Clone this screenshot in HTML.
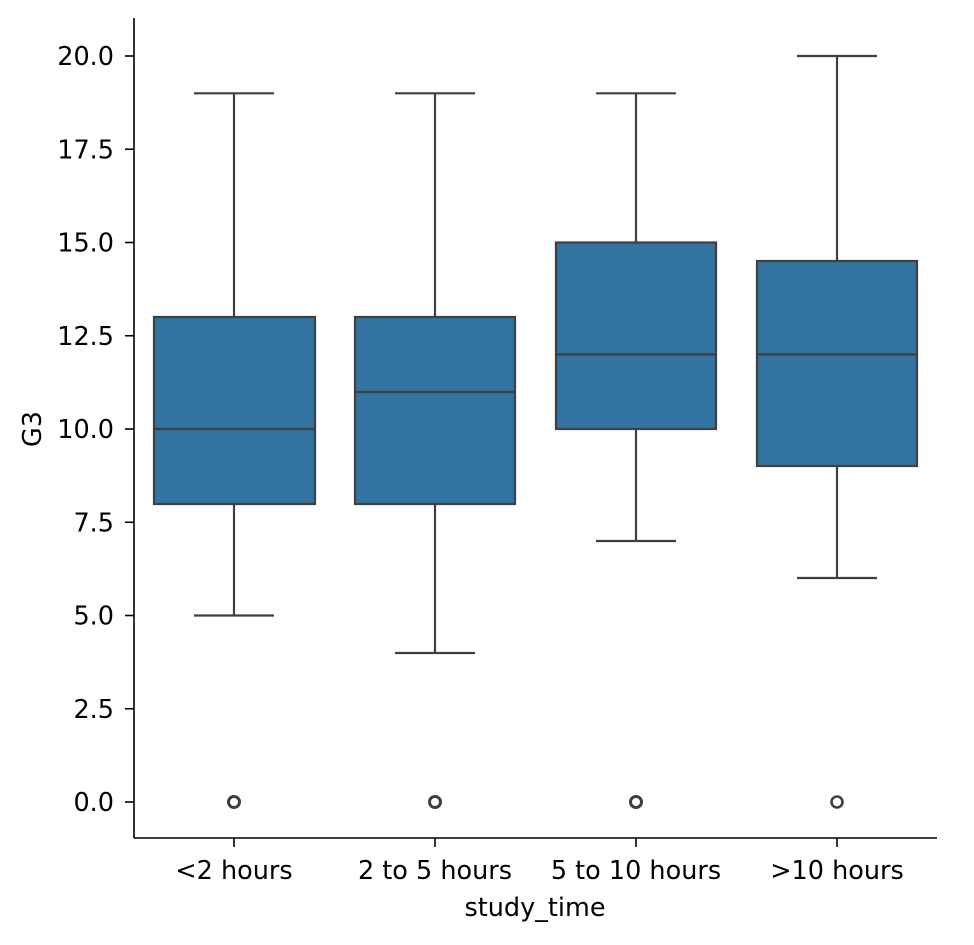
<!DOCTYPE html>
<html><head><meta charset="utf-8"><style>body{margin:0;background:#fff}</style></head>
<body>
<svg width="974" height="940" xmlns="http://www.w3.org/2000/svg" font-family="DejaVu Sans, Liberation Sans, sans-serif" font-size="25.5">
<rect width="974" height="940" fill="#fff"/>
<g stroke="#000" stroke-width="1.6">
<line x1="134" y1="18" x2="134" y2="838"/>
<line x1="134" y1="838" x2="937" y2="838"/>
</g>
<g stroke="#000" stroke-width="1.6">
<line x1="125" y1="802" x2="134" y2="802"/>
<line x1="125" y1="708.75" x2="134" y2="708.75"/>
<line x1="125" y1="615.5" x2="134" y2="615.5"/>
<line x1="125" y1="522.25" x2="134" y2="522.25"/>
<line x1="125" y1="429" x2="134" y2="429"/>
<line x1="125" y1="335.75" x2="134" y2="335.75"/>
<line x1="125" y1="242.5" x2="134" y2="242.5"/>
<line x1="125" y1="149.25" x2="134" y2="149.25"/>
<line x1="125" y1="56" x2="134" y2="56"/>
<line x1="234" y1="838" x2="234" y2="847"/>
<line x1="435" y1="838" x2="435" y2="847"/>
<line x1="636" y1="838" x2="636" y2="847"/>
<line x1="837" y1="838" x2="837" y2="847"/>
</g>
<g text-anchor="end" fill="#000">
<text x="114" y="811">0.0</text>
<text x="114" y="717.75">2.5</text>
<text x="114" y="624.5">5.0</text>
<text x="114" y="531.25">7.5</text>
<text x="114" y="438">10.0</text>
<text x="114" y="344.75">12.5</text>
<text x="114" y="251.5">15.0</text>
<text x="114" y="158.25">17.5</text>
<text x="114" y="65">20.0</text>
</g>
<g text-anchor="middle" fill="#000">
<text x="234" y="879">&lt;2 hours</text>
<text x="435" y="879">2 to 5 hours</text>
<text x="636" y="879">5 to 10 hours</text>
<text x="837" y="879">&gt;10 hours</text>
<text x="535" y="916">study_time</text>
<text transform="translate(41,429) rotate(-90)">G3</text>
</g>
<g stroke="#3f3f3f" stroke-width="2.2" fill="#3274a1">
<line x1="234" y1="93.3" x2="234" y2="317"/><line x1="234" y1="504" x2="234" y2="615.5"/>
<line x1="194" y1="93.3" x2="274" y2="93.3"/><line x1="194" y1="615.5" x2="274" y2="615.5"/>
<rect x="154" y="317" width="161" height="187"/><line x1="154" y1="429" x2="315" y2="429"/>
<circle cx="234" cy="802" r="5.5" fill="none" stroke-width="3"/>

<line x1="435" y1="93.3" x2="435" y2="317"/><line x1="435" y1="504" x2="435" y2="653"/>
<line x1="395" y1="93.3" x2="475" y2="93.3"/><line x1="395" y1="653" x2="475" y2="653"/>
<rect x="355" y="317" width="160" height="187"/><line x1="355" y1="392" x2="515" y2="392"/>
<circle cx="435" cy="802" r="5.5" fill="none" stroke-width="3"/>

<line x1="636" y1="93.3" x2="636" y2="242.5"/><line x1="636" y1="429" x2="636" y2="541"/>
<line x1="596" y1="93.3" x2="676" y2="93.3"/><line x1="596" y1="541" x2="676" y2="541"/>
<rect x="556" y="242.5" width="160" height="186.5"/><line x1="556" y1="354.4" x2="716" y2="354.4"/>
<circle cx="636" cy="802" r="5.5" fill="none" stroke-width="3"/>

<line x1="837" y1="56" x2="837" y2="261"/><line x1="837" y1="466" x2="837" y2="578"/>
<line x1="797" y1="56" x2="877" y2="56"/><line x1="797" y1="578" x2="877" y2="578"/>
<rect x="757" y="261" width="160" height="205"/><line x1="757" y1="354.4" x2="917" y2="354.4"/>
<circle cx="837" cy="802" r="5.5" fill="none" stroke-width="2.6"/>
</g>
</svg>
</body></html>
